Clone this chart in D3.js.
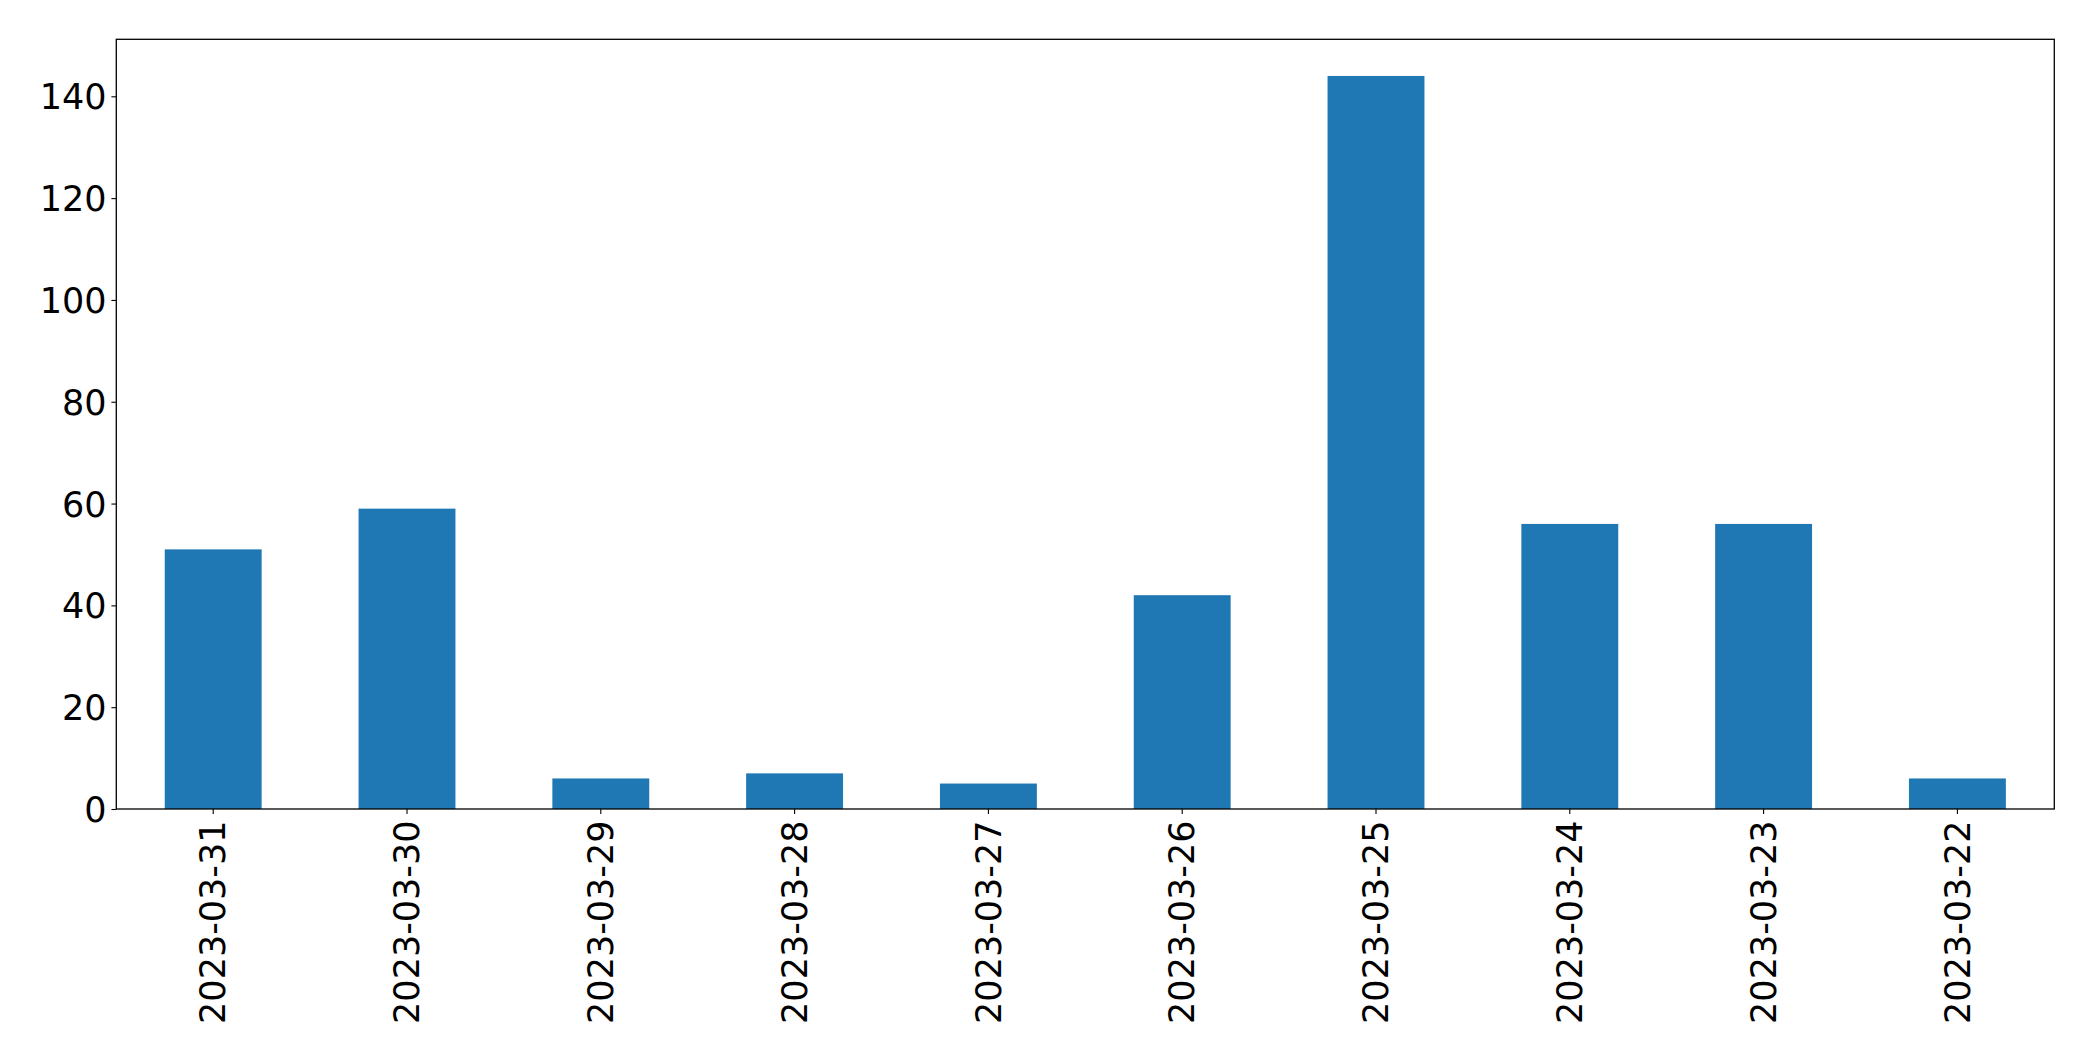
<!DOCTYPE html>
<html>
<head>
<meta charset="utf-8">
<script src="https://cdn.jsdelivr.net/npm/d3@7"></script>
<style>
html,body{margin:0;padding:0;background:#fff;}
svg{display:block;}
text{font-family:"DejaVu Sans",sans-serif;fill:#000;}
</style>
</head>
<body>
<svg id="chart" width="2093" height="1061"></svg>
<script>
const categories = ["2023-03-31","2023-03-30","2023-03-29","2023-03-28","2023-03-27","2023-03-26","2023-03-25","2023-03-24","2023-03-23","2023-03-22"];
const values = [51, 59, 6, 7, 5, 42, 144, 56, 56, 6];
const yTicks = [0, 20, 40, 60, 80, 100, 120, 140];

const W = 2093, H = 1061;
const m = {left: 116.3, right: W - 2054.3, top: 39.3, bottom: H - 809};
const iw = W - m.left - m.right, ih = H - m.top - m.bottom;
const svg = d3.select("#chart");
const g = svg.append("g").attr("transform", `translate(${m.left},${m.top})`);

const x = d3.scaleBand().domain(categories).range([0, iw]).paddingInner(0.5).paddingOuter(0.25);
const y = d3.scaleLinear().domain([0, d3.max(values) * 1.05]).range([ih, 0]);

g.selectAll("rect.bar").data(values).join("rect")
  .attr("class", "bar")
  .attr("x", (d, i) => x(categories[i]))
  .attr("width", x.bandwidth())
  .attr("y", d => y(d))
  .attr("height", d => y(0) - y(d))
  .attr("fill", "#1f77b4");

const fs = 35;
const yAxis = g.append("g").call(d3.axisLeft(y).tickValues(yTicks).tickSize(4.9).tickPadding(4.9).tickFormat(d3.format("d")));
yAxis.select(".domain").remove();
yAxis.selectAll("line").attr("stroke", "#000").attr("stroke-width", 1.1);
yAxis.selectAll("text").attr("font-size", fs).attr("font-family", "DejaVu Sans").attr("dy", "0.36em");

const xAxis = g.append("g").attr("transform", `translate(0,${ih})`).call(d3.axisBottom(x).tickSize(4.9).tickPadding(4.9));
xAxis.select(".domain").remove();
xAxis.selectAll("line").attr("stroke", "#000").attr("stroke-width", 1.1);
xAxis.selectAll("text")
  .attr("font-size", fs).attr("font-family", "DejaVu Sans")
  .attr("transform", "rotate(-90)")
  .attr("text-anchor", "end")
  .attr("x", -11.5).attr("y", 0).attr("dy", "0.35em");

g.append("rect").attr("x", 0).attr("y", 0).attr("width", iw).attr("height", ih)
  .attr("fill", "none").attr("stroke", "#000").attr("stroke-width", 1.3);
</script>
</body>
</html>
